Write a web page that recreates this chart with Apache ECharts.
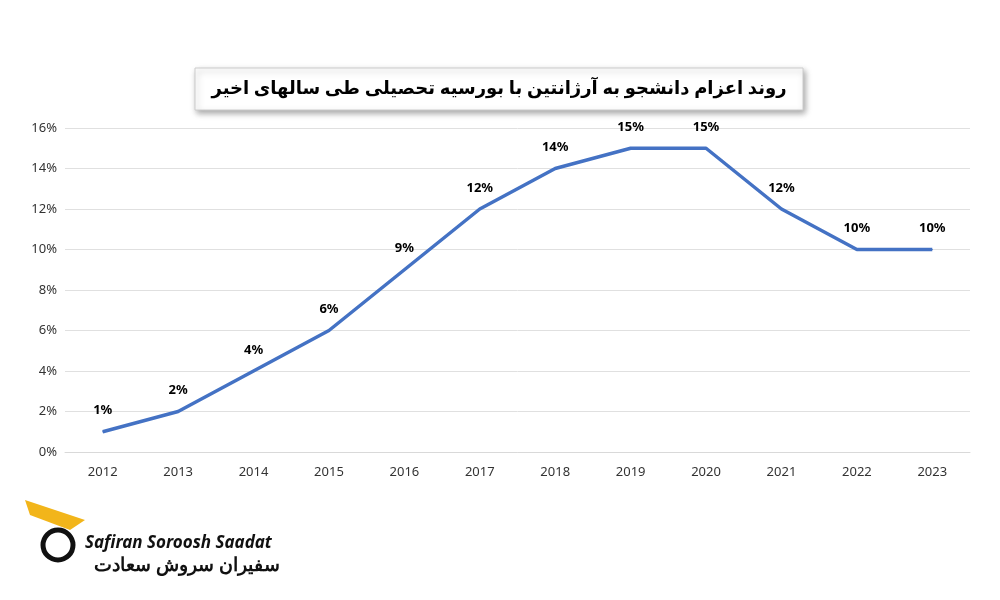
<!DOCTYPE html>
<html><head><meta charset="utf-8">
<script src="https://cdn.jsdelivr.net/npm/echarts@6/dist/echarts.min.js"></script>
<style>html,body{margin:0;padding:0;background:#fff}#c{width:1000px;height:600px}</style>
</head><body><div id="c"></div>
<script>
const years = ['2012','2013','2014','2015','2016','2017','2018','2019','2020','2021','2022','2023'];
const values = [1,2,4,6,9,12,14,15,15,12,10,10];
const titleText = 'روند اعزام دانشجو به آرژانتین با بورسیه تحصیلی طی سالهای اخیر';
const chart = echarts.init(document.getElementById('c'));
chart.setOption({
  animation:false,
  grid:{left:65,right:30,top:128,bottom:148},
  graphic:[
    {type:'rect',shape:{x:195,y:68,width:608,height:42},style:{fill:'#fff',stroke:'#ccc',lineWidth:1,shadowBlur:6,shadowOffsetX:2,shadowOffsetY:3,shadowColor:'rgba(0,0,0,0.35)'}},
    {type:'text',x:499,y:89,style:{text:titleText,font:'bold 18px "Noto Sans", "DejaVu Sans"',fill:'#000',align:'center',verticalAlign:'middle'}},
    {type:'text',x:85,y:543,style:{text:'Safiran Soroosh Saadat',font:'italic bold 17px "Noto Sans"',fill:'#111',verticalAlign:'middle'}},
    {type:'text',x:280,y:566,style:{text:'سفیران سروش سعادت',font:'bold 19px "Noto Sans"',fill:'#111',align:'right',verticalAlign:'middle'}},
    {type:'circle',shape:{cx:58,cy:545,r:15},style:{fill:'none',stroke:'#111',lineWidth:5}},
    {type:'polygon',shape:{points:[[25,500],[85,520],[70,530],[30,515]]},style:{fill:'#f2b51a'}}
  ],
  xAxis:{type:'category',data:years,boundaryGap:true,
    axisLine:{lineStyle:{color:'#d9d9d9'}},axisTick:{show:false},
    axisLabel:{color:'#333',fontSize:13,margin:14,fontFamily:'Noto Sans'}},
  yAxis:{type:'value',min:0,max:16,interval:2,
    axisLabel:{formatter:'{value}%',color:'#333',fontSize:13,fontFamily:'Noto Sans'},
    splitLine:{lineStyle:{color:'#e0e0e0'}},axisLine:{show:false},axisTick:{show:false}},
  series:[{type:'line',data:values,symbol:'circle',symbolSize:1,showSymbol:true,
    itemStyle:{color:'#4472C4',borderWidth:0},
    lineStyle:{color:'#4472C4',width:3.5},
    label:{show:true,position:'top',distance:14,formatter:'{c}%',fontWeight:'bold',fontSize:13,color:'#000',fontFamily:'Noto Sans'}}]
});
</script></body></html>
